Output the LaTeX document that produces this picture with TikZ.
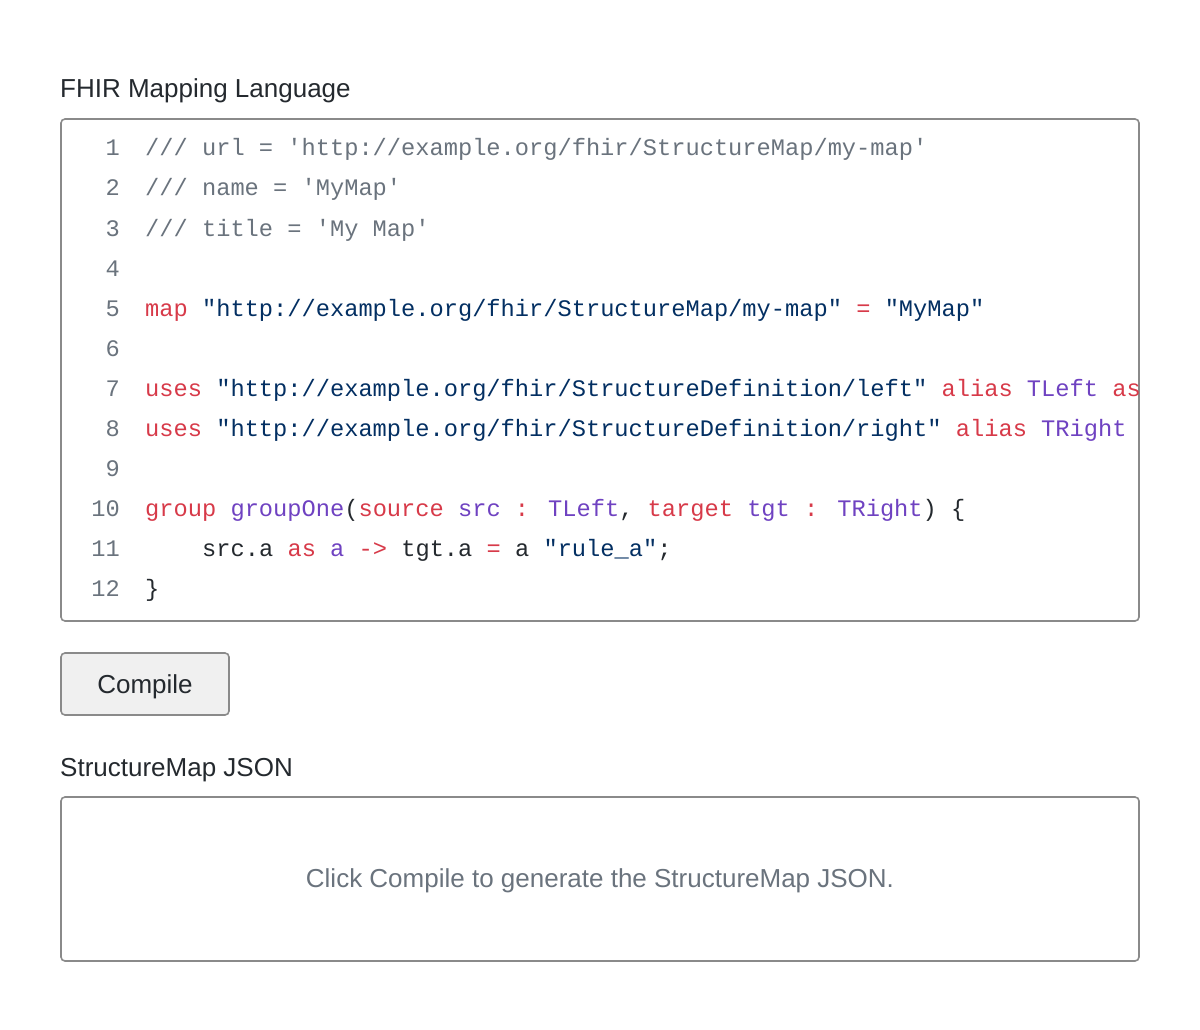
\documentclass[tikz,border=0pt]{standalone}
\usepackage{fontspec}
\setmainfont{Liberation Sans}
\newfontfamily\codefont{Liberation Mono}
\usetikzlibrary{positioning}
% Colors
\definecolor{cmtcolor}{HTML}{6A737D}
\definecolor{kwcolor}{HTML}{D73A49}
\definecolor{strcolor}{HTML}{032F62}
\definecolor{idcolor}{HTML}{6F42C1}
\definecolor{txtcolor}{HTML}{24292E}
\definecolor{framecolor}{HTML}{8A8A8A}
% Local definitions
\newcommand{\kw}[1]{\textcolor{kwcolor}{#1}}
\newcommand{\st}[1]{\textcolor{strcolor}{#1}}
\newcommand{\pu}[1]{\textcolor{idcolor}{#1}}
\newcommand{\cm}[1]{\textcolor{cmtcolor}{#1}}
\begin{document}
\begin{tikzpicture}
[x=1pt,y=-1pt,
% Styles
heading/.style={anchor=base west,inner sep=0pt,font=\fontsize{26}{30}\selectfont,text=txtcolor},
panel/.style={draw=framecolor,line width=1.6pt,rounded corners=4pt},
lineno/.style={anchor=base east,inner sep=0pt,font=\codefont\fontsize{23.7}{28}\selectfont,text=cmtcolor},
codeline/.style={anchor=base west,inner sep=0pt,font=\codefont\fontsize{23.7}{28}\selectfont,text=txtcolor}]
\useasboundingbox (0,0) rectangle (1200,1030);
% Editor
\node[heading] (title) at (60,98) {FHIR Mapping Language};
\draw[panel] (61,119) rectangle (1139,621);
\foreach \i in {1,...,12}
\node[lineno] (n\i) at (120,{156+40*(\i-1)}) {\i};
\begin{scope}
\clip (62,120) rectangle (1138,620);
\node[codeline] (c1) at (145,156) {\cm{/// url = 'http://example.org/fhir/StructureMap/my-map'}};
\node[codeline] (c2) at (145,196) {\cm{/// name = 'MyMap'}};
\node[codeline] (c3) at (145,236) {\cm{/// title = 'My Map'}};
\node[codeline] (c5) at (145,316) {\kw{map} \st{"http://example.org/fhir/StructureMap/my-map"} \kw{=} \st{"MyMap"}};
\node[codeline] (c7) at (145,396) {\kw{uses} \st{"http://example.org/fhir/StructureDefinition/left"} \kw{alias} \pu{TLeft} \kw{as}};
\node[codeline] (c8) at (145,436) {\kw{uses} \st{"http://example.org/fhir/StructureDefinition/right"} \kw{alias} \pu{TRight}};
\node[codeline] (c10) at (145,516) {\kw{group} \pu{groupOne}(\kw{source} \pu{src} \kw{:} \pu{TLeft}, \kw{target} \pu{tgt} \kw{:} \pu{TRight}) \{};
\node[codeline] (c11) at (202,556) {src.a \kw{as} \pu{a} \kw{->} tgt.a \kw{=} a \st{"rule\_a"};};
\node[codeline] (c12) at (145,596) {\}};
\end{scope}
% Button
\draw[panel,fill=black!6] (61,653) rectangle (229,715);
\node[heading,anchor=base] (compile) at (145,693) {Compile};
% Output
\node[heading] (jsontitle) at (60,776) {StructureMap JSON};
\draw[panel] (61,797) rectangle (1139,961);
\node[heading,anchor=base,text=cmtcolor] (hint) at (600,887) {Click Compile to generate the StructureMap JSON.};
\end{tikzpicture}
\end{document}
